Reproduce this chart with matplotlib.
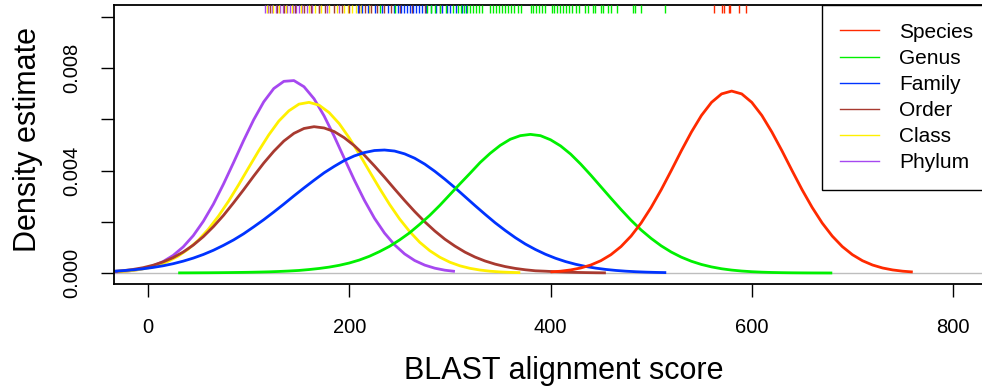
import matplotlib
matplotlib.use('Agg')
import matplotlib.pyplot as plt
from matplotlib.lines import Line2D
import numpy as np

plt.rcParams['font.family'] = ['Liberation Sans', 'DejaVu Sans']

ranks = ['Species', 'Genus', 'Family', 'Order', 'Class', 'Phylum']
colors = ['#FF2A00', '#00F000', '#0033FF', '#A83A30', '#FFF000', '#A648F0']

# density estimates (score grid step 10)
species_x = np.arange(400, 770, 10)
species_y = [0.0000405, 0.0000708, 0.00012, 0.000196, 0.000312, 0.00048, 0.000715,
             0.00103, 0.00144, 0.00195, 0.00256, 0.00325, 0.0040, 0.00477, 0.0055,
             0.00615, 0.00666, 0.00699, 0.0071, 0.00699, 0.00666, 0.00615, 0.0055,
             0.00477, 0.0040, 0.00325, 0.00256, 0.00195, 0.00144, 0.00103, 0.000715,
             0.00048, 0.000312, 0.000196, 0.00012, 0.0000708, 0.0000405]

genus_x = np.arange(30, 690, 10)
genus_y = [0.000005, 0.000006, 0.000008, 0.00001, 0.000013, 0.000017, 0.000022,
           0.000028, 0.000036, 0.000046, 0.00006, 0.000078, 0.0001, 0.000135,
           0.000177, 0.00023, 0.0003, 0.00039, 0.000506, 0.000653, 0.000834,
           0.00104, 0.00129, 0.00157, 0.0019, 0.00225, 0.00264, 0.00306, 0.00348,
           0.00389, 0.00431, 0.00467, 0.00498, 0.00522, 0.00536, 0.00541, 0.00536,
           0.0052, 0.00496, 0.00464, 0.00425, 0.00382, 0.00337, 0.00292, 0.00248,
           0.00206, 0.00168, 0.00135, 0.00106, 0.000817, 0.000618, 0.000458,
           0.000333, 0.000238, 0.000166, 0.000114, 0.000077, 0.0000509, 0.0000329,
           0.0000208, 0.000013, 0.000008, 0.000005, 0.000003, 0.000002, 0.000001]

family_x = np.arange(-35, 525, 10)
family_y = [0.0000668, 0.0000912, 0.000123, 0.000164, 0.000217, 0.000282, 0.000363,
            0.000463, 0.000582, 0.000723, 0.000888, 0.00108, 0.00129, 0.00153,
            0.0018, 0.00208, 0.00238, 0.00269, 0.00301, 0.00332, 0.00362, 0.00391,
            0.00416, 0.00439, 0.00457, 0.0047, 0.00478, 0.0048, 0.00476, 0.00465,
            0.00448, 0.00425, 0.00397, 0.00366, 0.00333, 0.00298, 0.00263, 0.00229,
            0.00196, 0.00166, 0.00138, 0.00113, 0.000917, 0.000731, 0.000575,
            0.000445, 0.00034, 0.000255, 0.00019, 0.000139, 0.0001, 0.0000708,
            0.0000496, 0.0000342, 0.0000232, 0.0000156]

order_x = np.arange(-35, 465, 10)
order_y = [0.000058, 0.0000906, 0.000139, 0.000207, 0.000303, 0.000432, 0.000602,
           0.00082, 0.00109, 0.00142, 0.00181, 0.00225, 0.00274, 0.00325, 0.00378,
           0.00429, 0.00475, 0.00515, 0.00545, 0.00564, 0.00571, 0.00566, 0.00552,
           0.00528, 0.00497, 0.0046, 0.00418, 0.00374, 0.00328, 0.00283, 0.0024,
           0.0020, 0.00164, 0.00132, 0.00105, 0.000814, 0.000622, 0.000468,
           0.000346, 0.000251, 0.000179, 0.000126, 0.0000865, 0.00007, 0.00005,
           0.000035, 0.000024, 0.000016, 0.00001, 0.000006]

class_x = np.arange(-30, 380, 10)
class_y = [0.00005, 0.0000778, 0.000126, 0.000199, 0.000305, 0.000455, 0.000661,
           0.000932, 0.00128, 0.00171, 0.00222, 0.0028, 0.00344, 0.00411, 0.00477,
           0.00539, 0.00593, 0.00633, 0.00659, 0.00666, 0.00655, 0.00626, 0.00583,
           0.00527, 0.00464, 0.00397, 0.00331, 0.00268, 0.00211, 0.00162, 0.0012,
           0.000871, 0.000615, 0.000421, 0.00028, 0.000182, 0.000115, 0.0000704,
           0.0000419, 0.0000244, 0.0000137]

phylum_x = np.arange(-35, 315, 10)
phylum_y = [0.00004, 0.000056, 0.0000994, 0.000169, 0.00028, 0.000447, 0.000687,
            0.00102, 0.00146, 0.00202, 0.00269, 0.00347, 0.00431, 0.00517, 0.00598,
            0.00668, 0.0072, 0.00748, 0.00751, 0.00727, 0.0068, 0.00613, 0.00534,
            0.00448, 0.00363, 0.00284, 0.00214, 0.00156, 0.0011, 0.000745, 0.000487,
            0.000308, 0.000188, 0.00011, 0.0000628]

# individual scores shown as rug along the top
species_rug = [562, 570, 572, 577, 578, 587, 594]
genus_rug = [231, 245, 277, 281, 285, 290, 296, 303, 308, 311, 314, 317, 320, 323,
             326, 329, 332, 340, 343, 346, 349, 352, 355, 358, 361, 364, 368, 371,
             381, 383, 386, 389, 392, 395, 401, 403, 406, 409, 412, 415, 418, 421,
             425, 428, 434, 437, 442, 444, 450, 452, 457, 460, 466, 482, 484, 490, 514]
family_rug = [209, 213, 219, 226, 233, 238, 244, 248, 251, 254, 257, 260, 263, 266,
              269, 272, 276, 281, 286, 292, 297, 300, 306, 312, 316]
order_rug = [121, 128, 135, 146, 155, 162, 170, 176, 185, 193, 200, 210, 216, 222,
             228, 235, 241, 250, 262, 275, 290]
class_rug = [118, 124, 130, 137, 143, 152, 160, 166, 172, 180, 188, 195, 199, 203,
             207, 212, 220]
phylum_rug = [116, 119, 123, 127, 131, 134, 138, 141, 144, 147, 150, 153, 158, 163,
              170, 178, 190]

curves = [(species_x, species_y), (genus_x, genus_y), (family_x, family_y),
          (order_x, order_y), (class_x, class_y), (phylum_x, phylum_y)]
rugs = [species_rug, genus_rug, family_rug, order_rug, class_rug, phylum_rug]

fig = plt.figure(figsize=(9.82, 3.91), dpi=100)
ax = fig.add_axes([114 / 982, 1 - 284 / 391, 899.4 / 982, 279 / 391])

ax.axhline(0, color='#BEBEBE', lw=1, zorder=1)

for i in reversed(range(len(ranks))):
    cx, cy = curves[i]
    ax.plot(cx, cy, color=colors[i], lw=2, zorder=2,
            solid_capstyle='butt', solid_joinstyle='round')

trans = ax.get_xaxis_transform()
for i in reversed(range(len(ranks))):
    ax.vlines(rugs[i], 0.97, 1.0, colors=colors[i], lw=1.0, transform=trans, zorder=3)

ax.set_xlim(-33.8, 860)
ax.set_ylim(-0.000429, 0.010459)

ax.set_xticks([0, 200, 400, 600, 800])
ax.set_yticks([0, 0.002, 0.004, 0.006, 0.008, 0.010])
ax.set_yticklabels(['0.000', '', '0.004', '', '0.008', ''], rotation=90, va='center')
ax.tick_params(axis='both', direction='out', length=9.5, width=1, labelsize=14.5)
ax.tick_params(axis='x', pad=15)
ax.tick_params(axis='y', pad=14)
for s in ax.spines.values():
    s.set_linewidth(1.3)

ax.set_xlabel('BLAST alignment score', fontsize=22, labelpad=14)
fig.text(28 / 982, 1 - 140 / 391, 'Density estimate', rotation=90, fontsize=22,
         ha='center', va='center')

handles = [Line2D([], [], color=c, lw=1) for c in colors]
leg = ax.legend(handles, ranks, loc='upper left', bbox_to_anchor=((822 - 114) / 899.4, 1.0),
                fontsize=15, frameon=True, fancybox=False, edgecolor='black',
                handlelength=1.9, handletextpad=0.95, labelspacing=0.34,
                borderpad=0.85, borderaxespad=0, framealpha=1)
leg.get_frame().set_linewidth(1.0)

fig.savefig('out.png', dpi=100)
